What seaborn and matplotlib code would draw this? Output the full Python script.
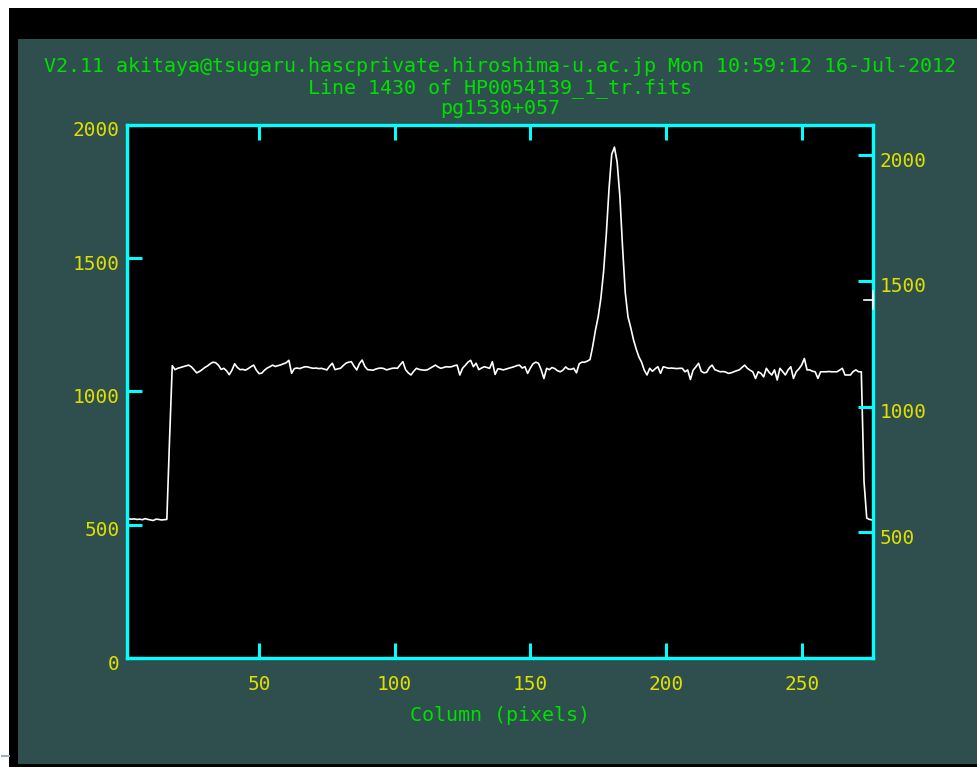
"""IRAF splot style line cut through a long-slit frame."""
import numpy as np
import matplotlib
matplotlib.use("Agg")
import matplotlib.pyplot as plt
import matplotlib.transforms as mtransforms
import seaborn as sns
from matplotlib.patches import Rectangle
from matplotlib.lines import Line2D

HEADER = "V2.11 akitaya@tsugaru.hascprivate.hiroshima-u.ac.jp Mon 10:59:12 16-Jul-2012"
SUBTITLE = "Line 1430 of HP0054139_1_tr.fits"
OBJECT_NAME = "pg1530+057"
XLABEL = "Column (pixels)"

# counts per column (column 1..276)
COUNTS = [
    522, 522, 521, 522, 520, 521, 519, 523, 520, 518,
    516, 521, 520, 518, 519, 520, 820, 1097, 1082, 1087,
    1090, 1093, 1096, 1099, 1093, 1082, 1070, 1075, 1082, 1090,
    1096, 1104, 1110, 1108, 1099, 1083, 1087, 1078, 1063, 1080,
    1104, 1090, 1082, 1083, 1080, 1086, 1093, 1099, 1080, 1067,
    1069, 1080, 1088, 1093, 1099, 1094, 1097, 1100, 1104, 1108,
    1117, 1068, 1086, 1088, 1086, 1090, 1093, 1092, 1089, 1087,
    1088, 1086, 1087, 1084, 1081, 1095, 1106, 1082, 1085, 1087,
    1097, 1106, 1110, 1112, 1095, 1081, 1105, 1118, 1094, 1082,
    1081, 1080, 1084, 1087, 1088, 1086, 1081, 1084, 1087, 1088,
    1087, 1100, 1112, 1082, 1070, 1062, 1076, 1087, 1083, 1081,
    1080, 1081, 1087, 1093, 1099, 1092, 1087, 1090, 1093, 1092,
    1093, 1097, 1099, 1062, 1087, 1098, 1110, 1117, 1093, 1106,
    1082, 1088, 1093, 1090, 1087, 1112, 1064, 1085, 1084, 1081,
    1084, 1087, 1090, 1093, 1097, 1099, 1088, 1093, 1068, 1088,
    1104, 1110, 1106, 1081, 1049, 1087, 1082, 1090, 1086, 1078,
    1074, 1080, 1092, 1084, 1083, 1087, 1070, 1104, 1110, 1110,
    1114, 1120, 1170, 1230, 1280, 1350, 1450, 1590, 1760, 1890,
    1917, 1860, 1733, 1540, 1370, 1280, 1240, 1195, 1160, 1130,
    1110, 1080, 1062, 1087, 1076, 1085, 1093, 1068, 1093, 1090,
    1087, 1088, 1087, 1086, 1087, 1087, 1074, 1081, 1045, 1080,
    1092, 1106, 1076, 1070, 1072, 1090, 1099, 1082, 1078, 1074,
    1075, 1073, 1068, 1070, 1074, 1078, 1081, 1090, 1099, 1087,
    1080, 1074, 1049, 1074, 1068, 1055, 1087, 1072, 1062, 1081,
    1043, 1087, 1075, 1062, 1081, 1093, 1049, 1074, 1085, 1099,
    1124, 1081, 1081, 1076, 1074, 1049, 1074, 1074, 1074, 1075,
    1074, 1074, 1074, 1080, 1087, 1062, 1062, 1062, 1075, 1081,
    1074, 1074, 662, 525, 520, 518,
]
COLUMNS = np.arange(1, len(COUNTS) + 1)

X_TICKS = [50, 100, 150, 200, 250]
Y_TICKS = [0, 500, 1000, 1500, 2000]
RIGHT_TICKS = [500, 1000, 1500, 2000]
XLIM = (1.5, 276.2)
YLIM = (0, 2000)
RIGHT_YLIM = (0, 2120)
CURSOR_Y = 1343

SLATE = "#2f4f4f"
CYAN = "#00ffff"
YELLOW = "#e0e000"
GREEN = "#00e000"
W, H = 978, 767

plt.rcParams["font.family"] = ["DejaVu Sans Mono"]


def px_rect(fig, x0, y0, x1, y1, color):
    fig.add_artist(Rectangle((x0 / W, 1 - y1 / H), (x1 - x0) / W, (y1 - y0) / H,
                             transform=fig.transFigure, color=color, zorder=-10,
                             lw=0))


def style_axis(a, pad):
    a.tick_params(direction="in", length=11, width=2.2, color=CYAN,
                  labelcolor=YELLOW, labelsize=14)
    a.tick_params(axis="y", pad=pad)
    for s in a.spines.values():
        s.set_color(CYAN)
        s.set_linewidth(2.3)
    # y labels sit a few pixels below their ticks in the original
    shift = mtransforms.ScaledTranslation(0, -0.04, a.figure.dpi_scale_trans)
    for lab in a.get_yticklabels():
        lab.set_transform(lab.get_transform() + shift)


def main():
    fig = plt.figure(figsize=(W / 100, H / 100), dpi=100, facecolor="white")
    px_rect(fig, 9, 8, W, H, "black")
    px_rect(fig, 18, 39, W, 764, SLATE)
    fig.add_artist(Line2D([2 / W, 9 / W], [1 - 756 / H] * 2, color="#9fb0c0",
                          lw=1.5, transform=fig.transFigure))

    ax = fig.add_axes([127.5 / W, 1 - 658 / H, (872.7 - 127.5) / W, (658 - 125) / H])
    ax.set_facecolor("black")
    sns.lineplot(x=COLUMNS, y=COUNTS, ax=ax, color="white", linewidth=1.2)
    ax.set_xlim(XLIM)
    ax.set_ylim(YLIM)
    ax.set_xticks(X_TICKS)
    ax.set_yticks(Y_TICKS)
    style_axis(ax, 5.8)
    ax.tick_params(axis="x", top=True, pad=12)
    ax.set_xlabel(XLABEL, color=GREEN, fontsize=14.4, labelpad=9)
    ax.set_ylabel("")

    ax2 = ax.twinx()
    ax2.set_ylim(RIGHT_YLIM)
    ax2.set_yticks(RIGHT_TICKS)
    style_axis(ax2, 4.8)

    # cursor mark on the right edge
    ax2.plot([273, XLIM[1]], [CURSOR_Y, CURSOR_Y], color="white", lw=1.2,
             transform=ax.transData, clip_on=False, zorder=3)
    ax2.plot([XLIM[1], XLIM[1]], [CURSOR_Y - 35, CURSOR_Y + 35], color="white",
             lw=1.2, transform=ax.transData, clip_on=False, zorder=3)

    for text, y in [(HEADER, 72), (SUBTITLE, 93), (OBJECT_NAME, 114)]:
        fig.text(500 / W, 1 - y / H, text, ha="center", va="baseline",
                 color=GREEN, fontsize=14.4)

    fig.savefig("out.png", dpi=100, facecolor=fig.get_facecolor())
    plt.close(fig)


if __name__ == "__main__":
    main()
